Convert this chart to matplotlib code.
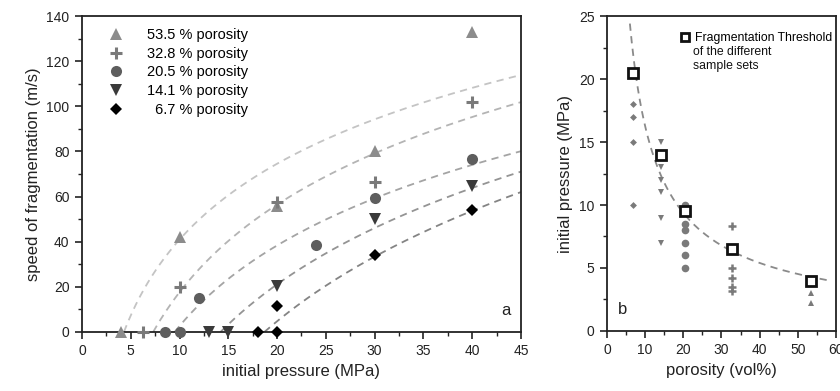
import matplotlib
matplotlib.use("Agg")
import matplotlib.pyplot as plt
from matplotlib.ticker import MultipleLocator
import numpy as np

plt.rcParams["font.family"] = ["Liberation Sans", "DejaVu Sans"]

# panel a: speed of fragmentation vs initial pressure, per porosity set
labels = ["53.5 % porosity", "32.8 % porosity", "20.5 % porosity",
          "14.1 % porosity", "\u20076.7 % porosity"]
p_535 = [4, 10, 20, 30, 40]
v_535 = [0, 42, 56, 80, 133]
p_328 = [6.3, 10, 20, 30, 40]
v_328 = [0, 20, 57.5, 66.5, 102]
p_205 = [8.5, 10, 12, 24, 30, 40]
v_205 = [0, 0, 15, 38.5, 59.5, 76.5]
p_141 = [13, 15, 20, 30, 40]
v_141 = [0, 0, 20.5, 50, 64.5]
p_67 = [18, 20, 20, 30, 40]
v_67 = [0, 0, 11.5, 34, 54]

# logarithmic fit lines v = a * ln(p / p0), parameters
fit_a = [48.5, 56.0, 51.5, 61.6, 70.6]
fit_p0 = [4.3, 7.3, 9.5, 14.2, 18.7]

# panel b: initial pressure vs porosity
thr_phi = [6.7, 14.1, 20.5, 32.8, 53.5]
thr_p = [20.5, 14.0, 9.5, 6.5, 4.0]
b_phi_67 = [6.7, 6.7, 6.7, 6.7]
b_p_67 = [18, 17, 15, 10]
b_phi_141 = [14.1, 14.1, 14.1, 14.1, 14.1, 14.1]
b_p_141 = [15, 13, 12, 11, 9, 7]
b_phi_205 = [20.5, 20.5, 20.5, 20.5, 20.5, 20.5]
b_p_205 = [10, 8.5, 8, 7, 6, 5]
b_phi_328 = [32.8, 32.8, 32.8, 32.8, 32.8]
b_p_328 = [8.3, 5, 4.2, 3.5, 3.2]
b_phi_535 = [53.5, 53.5]
b_p_535 = [3.0, 2.2]
# power-law threshold fit p = A * phi^k
thr_A = 101.4
thr_k = -0.795

fig = plt.figure(figsize=(8.4, 3.91), dpi=100)
ax1 = fig.add_axes([0.0976, 0.151, 0.5226, 0.808])
ax2 = fig.add_axes([0.7226, 0.1535, 0.2726, 0.8055])

styles = [
    dict(marker="^", color="#8c8c8c", ms=8, mew=0),
    dict(marker="+", color="#7a7a7a", ms=9, mew=2.2),
    dict(marker="o", color="#5e5e5e", ms=8, mew=0),
    dict(marker="v", color="#3a3a3a", ms=8, mew=0),
    dict(marker="D", color="#000000", ms=6, mew=0),
]
series = [(p_535, v_535), (p_328, v_328), (p_205, v_205), (p_141, v_141), (p_67, v_67)]
line_cols = ["#c4c4c4", "#b4b4b4", "#a4a4a4", "#949494", "#848484"]

for (p, v), st, lab, a, p0, lc in zip(series, styles, labels, fit_a, fit_p0, line_cols):
    pp = np.linspace(p0, 45, 200)
    ax1.plot(pp, a * np.log(pp / p0), ls=(0, (4, 3)), color=lc, lw=1.3, zorder=1)
    ax1.plot(p, v, ls="none", label=lab, clip_on=False, zorder=3, **st)

ax1.set_xlim(0, 45)
ax1.set_ylim(0, 140)
ax1.xaxis.set_major_locator(MultipleLocator(5))
ax1.xaxis.set_minor_locator(MultipleLocator(2.5))
ax1.yaxis.set_major_locator(MultipleLocator(20))
ax1.yaxis.set_minor_locator(MultipleLocator(10))
ax1.set_xlabel("initial pressure (MPa)", fontsize=12, color="#222222")
ax1.set_ylabel("speed of fragmentation (m/s)", fontsize=12, color="#222222")
ax1.text(0.965, 0.045, "a", transform=ax1.transAxes, fontsize=12,
         ha="center", va="bottom", color="#222222")
ax1.legend(loc="upper left", bbox_to_anchor=(0.035, 0.995), frameon=False,
           fontsize=10.5, handletextpad=1.5, labelspacing=0.33,
           handlelength=1.2, borderaxespad=0.3)

# panel b
pp = np.linspace(6.0, 58.4, 200)
ax2.plot(pp, thr_A * pp ** thr_k, ls=(0, (4, 3)), color="#8a8a8a", lw=1.3, zorder=1)
small = dict(ls="none", color="#7a7a7a", clip_on=False, zorder=2)
ax2.plot(b_phi_67, b_p_67, marker="D", ms=3.5, mew=0, **small)
ax2.plot(b_phi_141, b_p_141, marker="v", ms=5, mew=0, **small)
ax2.plot(b_phi_205, b_p_205, marker="o", ms=5.5, mew=0, **small)
ax2.plot(b_phi_328, b_p_328, marker="+", ms=6, mew=1.8, **small)
ax2.plot(b_phi_535, b_p_535, marker="^", ms=5, mew=0, **small)
ax2.plot(thr_phi, thr_p, ls="none", marker="s", ms=7, mfc="white", mec="#111111",
         mew=2, zorder=4, clip_on=False, label="Fragmentation Threshold")
ax2.set_xlim(0, 60)
ax2.set_ylim(0, 25)
ax2.xaxis.set_major_locator(MultipleLocator(10))
ax2.xaxis.set_minor_locator(MultipleLocator(5))
ax2.yaxis.set_major_locator(MultipleLocator(5))
ax2.yaxis.set_minor_locator(MultipleLocator(2.5))
ax2.set_xlabel("porosity (vol%)", fontsize=12, color="#222222")
ax2.set_ylabel("initial pressure (MPa)", fontsize=12, color="#222222")
ax2.text(0.07, 0.045, "b", transform=ax2.transAxes, fontsize=12,
         ha="center", va="bottom", color="#222222")
ax2.legend(loc="upper left", bbox_to_anchor=(0.28, 0.975), frameon=False,
           fontsize=8.8, handletextpad=0.3, handlelength=1.0,
           markerscale=0.75, borderaxespad=0.25)
ax2.text(0.375, 0.905, "of the different\nsample sets", transform=ax2.transAxes,
         fontsize=8.8, ha="left", va="top", linespacing=1.25, color="#111111")

for ax in (ax1, ax2):
    for s in ax.spines.values():
        s.set_linewidth(1.3)
        s.set_color("#222222")
    ax.tick_params(which="major", direction="out", length=5, width=1.2,
                   labelsize=10, colors="#222222", pad=4)
    ax.tick_params(which="minor", direction="out", length=3, width=1.0, colors="#222222")

fig.savefig("out.png", dpi=100)
